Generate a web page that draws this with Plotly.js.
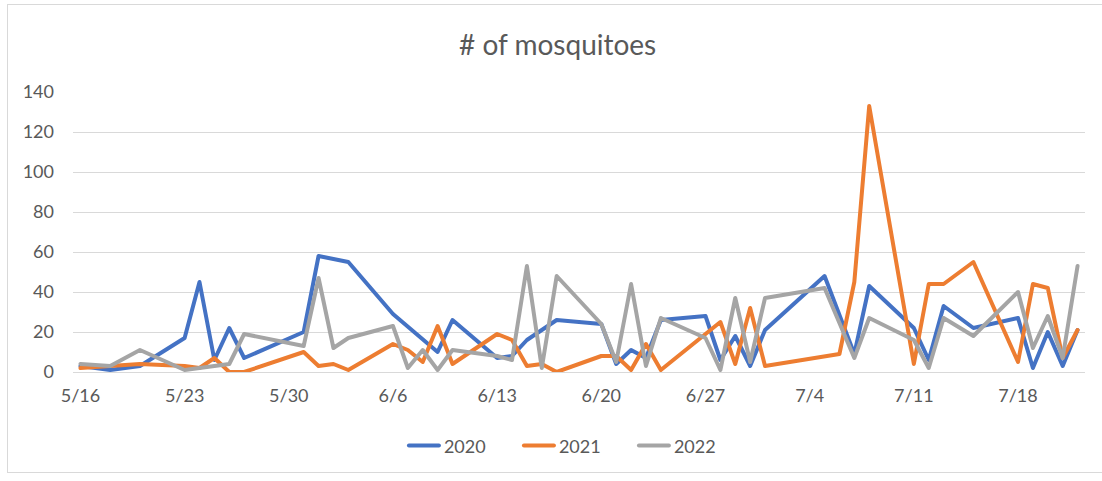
<!DOCTYPE html>
<html>
<head>
<meta charset="utf-8">
<script src="https://cdn.plot.ly/plotly-3.0.1.min.js"></script>
<style>
html, body { margin: 0; padding: 0; background: #ffffff; }
#wrap { position: relative; width: 1102px; height: 481px; overflow: hidden; }
#chart { width: 1102px; height: 481px; }
#frame { position: absolute; left: 7px; top: 4px; width: 1110px; height: 469px; border: 1px solid #d9d9d9; box-sizing: border-box; pointer-events: none; }
.scatterlayer path.js-line { stroke-linejoin: round; stroke-linecap: round; }
.legend path.js-line { stroke-linecap: round; }
</style>
</head>
<body>
<div id="wrap">
<div id="chart"></div>
<div id="frame"></div>
</div>
<script>
// ---- data (month/day) ----
const dates2020 = ['5/16','5/18','5/20','5/23','5/24','5/25','5/26','5/27','5/31','6/1','6/3','6/6','6/9','6/10','6/13','6/14','6/15','6/17','6/20','6/21','6/22','6/23','6/24','6/27','6/28','6/29','6/30','7/1','7/5','7/7','7/8','7/11','7/12','7/13','7/15','7/18','7/19','7/20','7/21','7/22'];
const count2020 = [3,1,3,17,45,6,22,7,20,58,55,29,10,26,7,8,16,26,24,4,11,7,26,28,6,18,3,21,48,9,43,22,6,33,22,27,2,20,3,21];

const dates2021 = ['5/16','5/18','5/20','5/23','5/24','5/25','5/26','5/27','5/31','6/1','6/2','6/3','6/6','6/7','6/8','6/9','6/10','6/13','6/14','6/15','6/16','6/17','6/20','6/21','6/22','6/23','6/24','6/28','6/29','6/30','7/1','7/6','7/7','7/8','7/11','7/12','7/13','7/15','7/18','7/19','7/20','7/21','7/22'];
const count2021 = [2,3,4,3,2,7,0,0,10,3,4,1,14,11,5,23,4,19,16,3,4,0,8,8,1,14,1,25,4,32,3,9,45,133,4,44,44,55,5,44,42,7,21];

const dates2022 = ['5/16','5/18','5/20','5/23','5/24','5/26','5/27','5/31','6/1','6/2','6/3','6/6','6/7','6/8','6/9','6/10','6/13','6/14','6/15','6/16','6/17','6/20','6/21','6/22','6/23','6/24','6/27','6/28','6/29','6/30','7/1','7/5','7/7','7/8','7/11','7/12','7/13','7/15','7/18','7/19','7/20','7/21','7/22'];
const count2022 = [4,3,11,1,2,4,19,13,47,12,17,23,2,11,1,11,8,6,53,2,48,24,5,44,3,27,17,1,37,5,37,42,7,27,16,2,27,18,40,12,28,7,53];

const tickLabels = ['5/16','5/23','5/30','6/6','6/13','6/20','6/27','7/4','7/11','7/18'];
const seriesNames = ['2020','2021','2022'];
const seriesColors = ['#4472C4','#ED7D31','#A5A5A5'];

// month/day -> a common date so all years share the axis
function toDate(md) {
  const p = md.split('/');
  return '2000-' + String(p[0]).padStart(2,'0') + '-' + String(p[1]).padStart(2,'0');
}

const allDates = [dates2020, dates2021, dates2022];
const allCounts = [count2020, count2021, count2022];

const traces = seriesNames.map((name, i) => ({
  type: 'scatter',
  mode: 'lines',
  name: name,
  x: allDates[i].map(toDate),
  y: allCounts[i],
  line: { color: seriesColors[i], width: 4 },
  hoverinfo: 'skip'
}));

const FONT = 'Lato, "Open Sans", "Liberation Sans", sans-serif';

const layout = {
  width: 1102,
  height: 481,
  paper_bgcolor: '#ffffff',
  plot_bgcolor: '#ffffff',
  margin: { l: 73, r: 17, t: 92, b: 109 },
  font: { family: FONT, color: '#595959', size: 18 },
  title: {
    text: '# of mosquitoes',
    font: { family: FONT, size: 28, color: '#595959' },
    xref: 'container', x: 0.506, xanchor: 'center',
    yref: 'container', y: 0.906, yanchor: 'middle'
  },
  xaxis: {
    type: 'date',
    range: ['2000-05-15 12:00', '2000-07-22 12:00'],
    tickmode: 'array',
    tickvals: tickLabels.map(toDate),
    ticktext: tickLabels,
    showgrid: false,
    zeroline: false,
    showline: false,
    ticks: '',
    ticklabelstandoff: 11,
    tickfont: { family: FONT, size: 18, color: '#595959' },
    fixedrange: true
  },
  yaxis: {
    range: [0, 140],
    dtick: 20,
    tick0: 0,
    showgrid: true,
    gridcolor: '#d9d9d9',
    gridwidth: 1,
    zeroline: true,
    zerolinecolor: '#d9d9d9',
    zerolinewidth: 1,
    showline: false,
    ticks: '',
    ticklabelstandoff: 18,
    tickfont: { family: FONT, size: 18, color: '#595959' },
    fixedrange: true
  },
  showlegend: true,
  legend: {
    orientation: 'h',
    x: 0.327, xanchor: 'left',
    y: -0.264, yanchor: 'middle',
    font: { family: FONT, size: 18, color: '#595959' },
    entrywidth: 70,
    entrywidthmode: 'pixels',
    traceorder: 'normal'
  }
};

Plotly.newPlot('chart', traces, layout, { staticPlot: true, displayModeBar: false });
</script>
</body>
</html>
